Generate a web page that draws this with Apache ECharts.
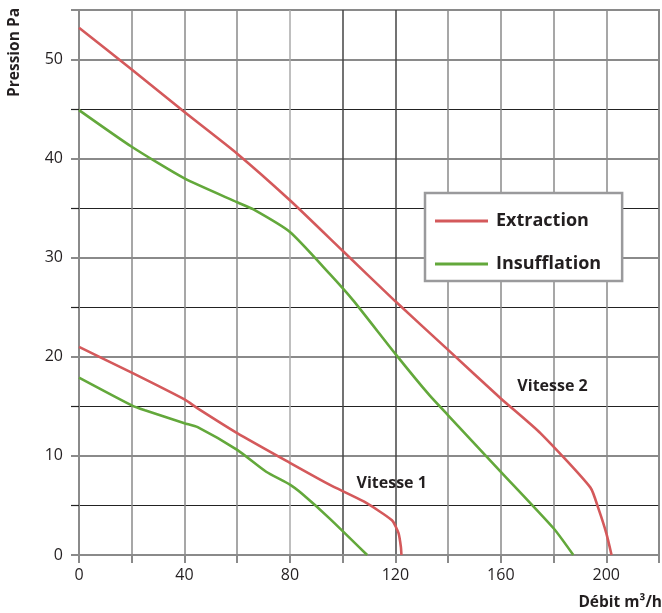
<!DOCTYPE html>
<html>
<head>
<meta charset="utf-8">
<script src="https://cdn.jsdelivr.net/npm/echarts@6/dist/echarts.min.js"></script>
<style>
html,body{margin:0;padding:0;background:#fff;}
#chart{width:662px;height:613px;}
</style>
</head>
<body>
<div id="chart"></div>
<script>
// Débit (m³/h) / Pression (Pa)
var extractionV2X = [0, 20, 40, 60, 80, 100, 120, 140, 160, 175, 194, 197, 200, 202];
var extractionV2Y = [53.2, 49.0, 44.7, 40.5, 35.8, 30.7, 25.6, 20.7, 15.8, 12.3, 6.8, 4.7, 2.2, 0];
var insufflationV2X = [0, 20, 40, 60, 66, 80, 95, 104, 120, 133, 140, 160, 180, 187.5];
var insufflationV2Y = [44.9, 41.2, 38.0, 35.6, 34.9, 32.6, 28.4, 25.7, 20.3, 16.1, 14.1, 8.4, 2.7, 0];
var extractionV1X = [0, 20, 40, 45, 60, 80, 95, 108, 118.7, 121.2, 122.1, 122.3];
var extractionV1Y = [21.0, 18.4, 15.7, 14.8, 12.3, 9.3, 7.1, 5.4, 3.5, 2.2, 0.8, 0];
var insufflationV1X = [0, 20, 25, 40, 45, 60, 71, 80, 84.5, 95, 109.3];
var insufflationV1Y = [17.9, 15.1, 14.6, 13.3, 12.9, 10.6, 8.4, 7.1, 6.2, 3.7, 0];
var seriesNames = ['Extraction', 'Insufflation'];
var annotationText = ['Vitesse 1', 'Vitesse 2'];
var annotationX = [118.8, 179.8];
var annotationY = [7.2, 17.0];
var xTickLabels = [0, 40, 80, 120, 160, 200];
var yTickLabels = [0, 10, 20, 30, 40, 50];
var xAxisTitle = 'Débit m³/h';
var yAxisTitle = 'Pression Pa';

function pairs(xs, ys) { return xs.map(function (x, i) { return [x, ys[i]]; }); }

var RED = '#d4595b';
var GREEN = '#63a83b';
var FONT = 'Open Sans';
var TXT = '#231f20';
var GREY = '#8a8a8a';

var chart = echarts.init(document.getElementById('chart'), null, { renderer: 'canvas' });

function lineSeries(name, xs, ys, color) {
  return {
    name: name, type: 'line', data: pairs(xs, ys), showSymbol: false, symbol: 'none',
    smooth: 0.2, lineStyle: { color: color, width: 2.6 }, itemStyle: { color: color },
    emphasis: { disabled: true }, animation: false, z: 3
  };
}

var option = {
  animation: false,
  backgroundColor: '#fff',
  grid: { left: 79, top: 10, right: 2, bottom: 58, show: true, borderColor: GREY, borderWidth: 2, backgroundColor: 'transparent' },
  xAxis: {
    type: 'value', min: 0, max: 220, interval: 20,
    axisLine: { show: true, lineStyle: { color: GREY, width: 2 } },
    axisTick: { show: true, inside: false, length: 8, lineStyle: { color: GREY, width: 2 } },
    axisLabel: {
      margin: 12, fontFamily: FONT, fontSize: 16, color: TXT,
      formatter: function (v) { return xTickLabels.indexOf(v) >= 0 ? String(v) : ''; }
    },
    splitLine: { show: true, lineStyle: { color: [GREY, GREY, GREY, GREY, '#aaa', '#444', '#444', GREY, GREY, GREY, GREY, GREY], width: 1.5 } }
  },
  yAxis: {
    type: 'value', min: 0, max: 55, interval: 10,
    axisLine: { show: true, lineStyle: { color: GREY, width: 2 } },
    axisTick: { show: true, inside: false, length: 8, lineStyle: { color: GREY, width: 2 } },
    minorTick: { show: true, splitNumber: 2, length: 8, lineStyle: { color: '#222', width: 1.2 } },
    axisLabel: {
      margin: 16, fontFamily: FONT, fontSize: 16, color: TXT,
      formatter: function (v) { return yTickLabels.indexOf(v) >= 0 ? String(v) : ''; }
    },
    splitLine: { show: true, lineStyle: { color: GREY, width: 2 } },
    minorSplitLine: { show: true, lineStyle: { color: '#222', width: 1.2 } }
  },
  legend: {
    data: seriesNames,
    orient: 'vertical',
    left: 425, top: 193,
    backgroundColor: '#fff',
    borderColor: '#9a9a9c', borderWidth: 2.5, borderRadius: 0,
    padding: [19, 21, 8, 10],
    itemGap: 25,
    itemWidth: 53, itemHeight: 3,
    icon: 'rect',
    textStyle: { fontFamily: FONT, fontSize: 18, fontWeight: 'bold', color: TXT, padding: [0, 0, 0, 3] },
    selectedMode: false,
    z: 10
  },
  graphic: [
    { type: 'text', left: 7, top: 8, rotation: Math.PI / 2,
      style: { text: yAxisTitle, fontFamily: FONT, fontSize: 15.5, fontWeight: 'bold', fill: TXT } },
    { type: 'text', right: 0, top: 595,
      style: { text: xAxisTitle, fontFamily: FONT, fontSize: 15.5, fontWeight: 'bold', fill: TXT } }
  ],
  series: [
    lineSeries(seriesNames[0], extractionV2X, extractionV2Y, RED),
    lineSeries(seriesNames[1], insufflationV2X, insufflationV2Y, GREEN),
    lineSeries(seriesNames[0], extractionV1X, extractionV1Y, RED),
    lineSeries(seriesNames[1], insufflationV1X, insufflationV1Y, GREEN),
    {
      name: 'annotations', type: 'scatter', symbol: 'circle', symbolSize: 1, animation: false,
      itemStyle: { opacity: 0 },
      data: annotationX.map(function (x, i) { return { value: [x, annotationY[i]], label: { formatter: annotationText[i] } }; }),
      label: { show: true, position: [0, 0], align: 'center', verticalAlign: 'middle', fontFamily: FONT, fontSize: 16, fontWeight: 'bold', color: TXT, opacity: 1 },
      emphasis: { disabled: true }, silent: true, z: 4
    }
  ]
};
chart.setOption(option);
</script>
</body>
</html>
